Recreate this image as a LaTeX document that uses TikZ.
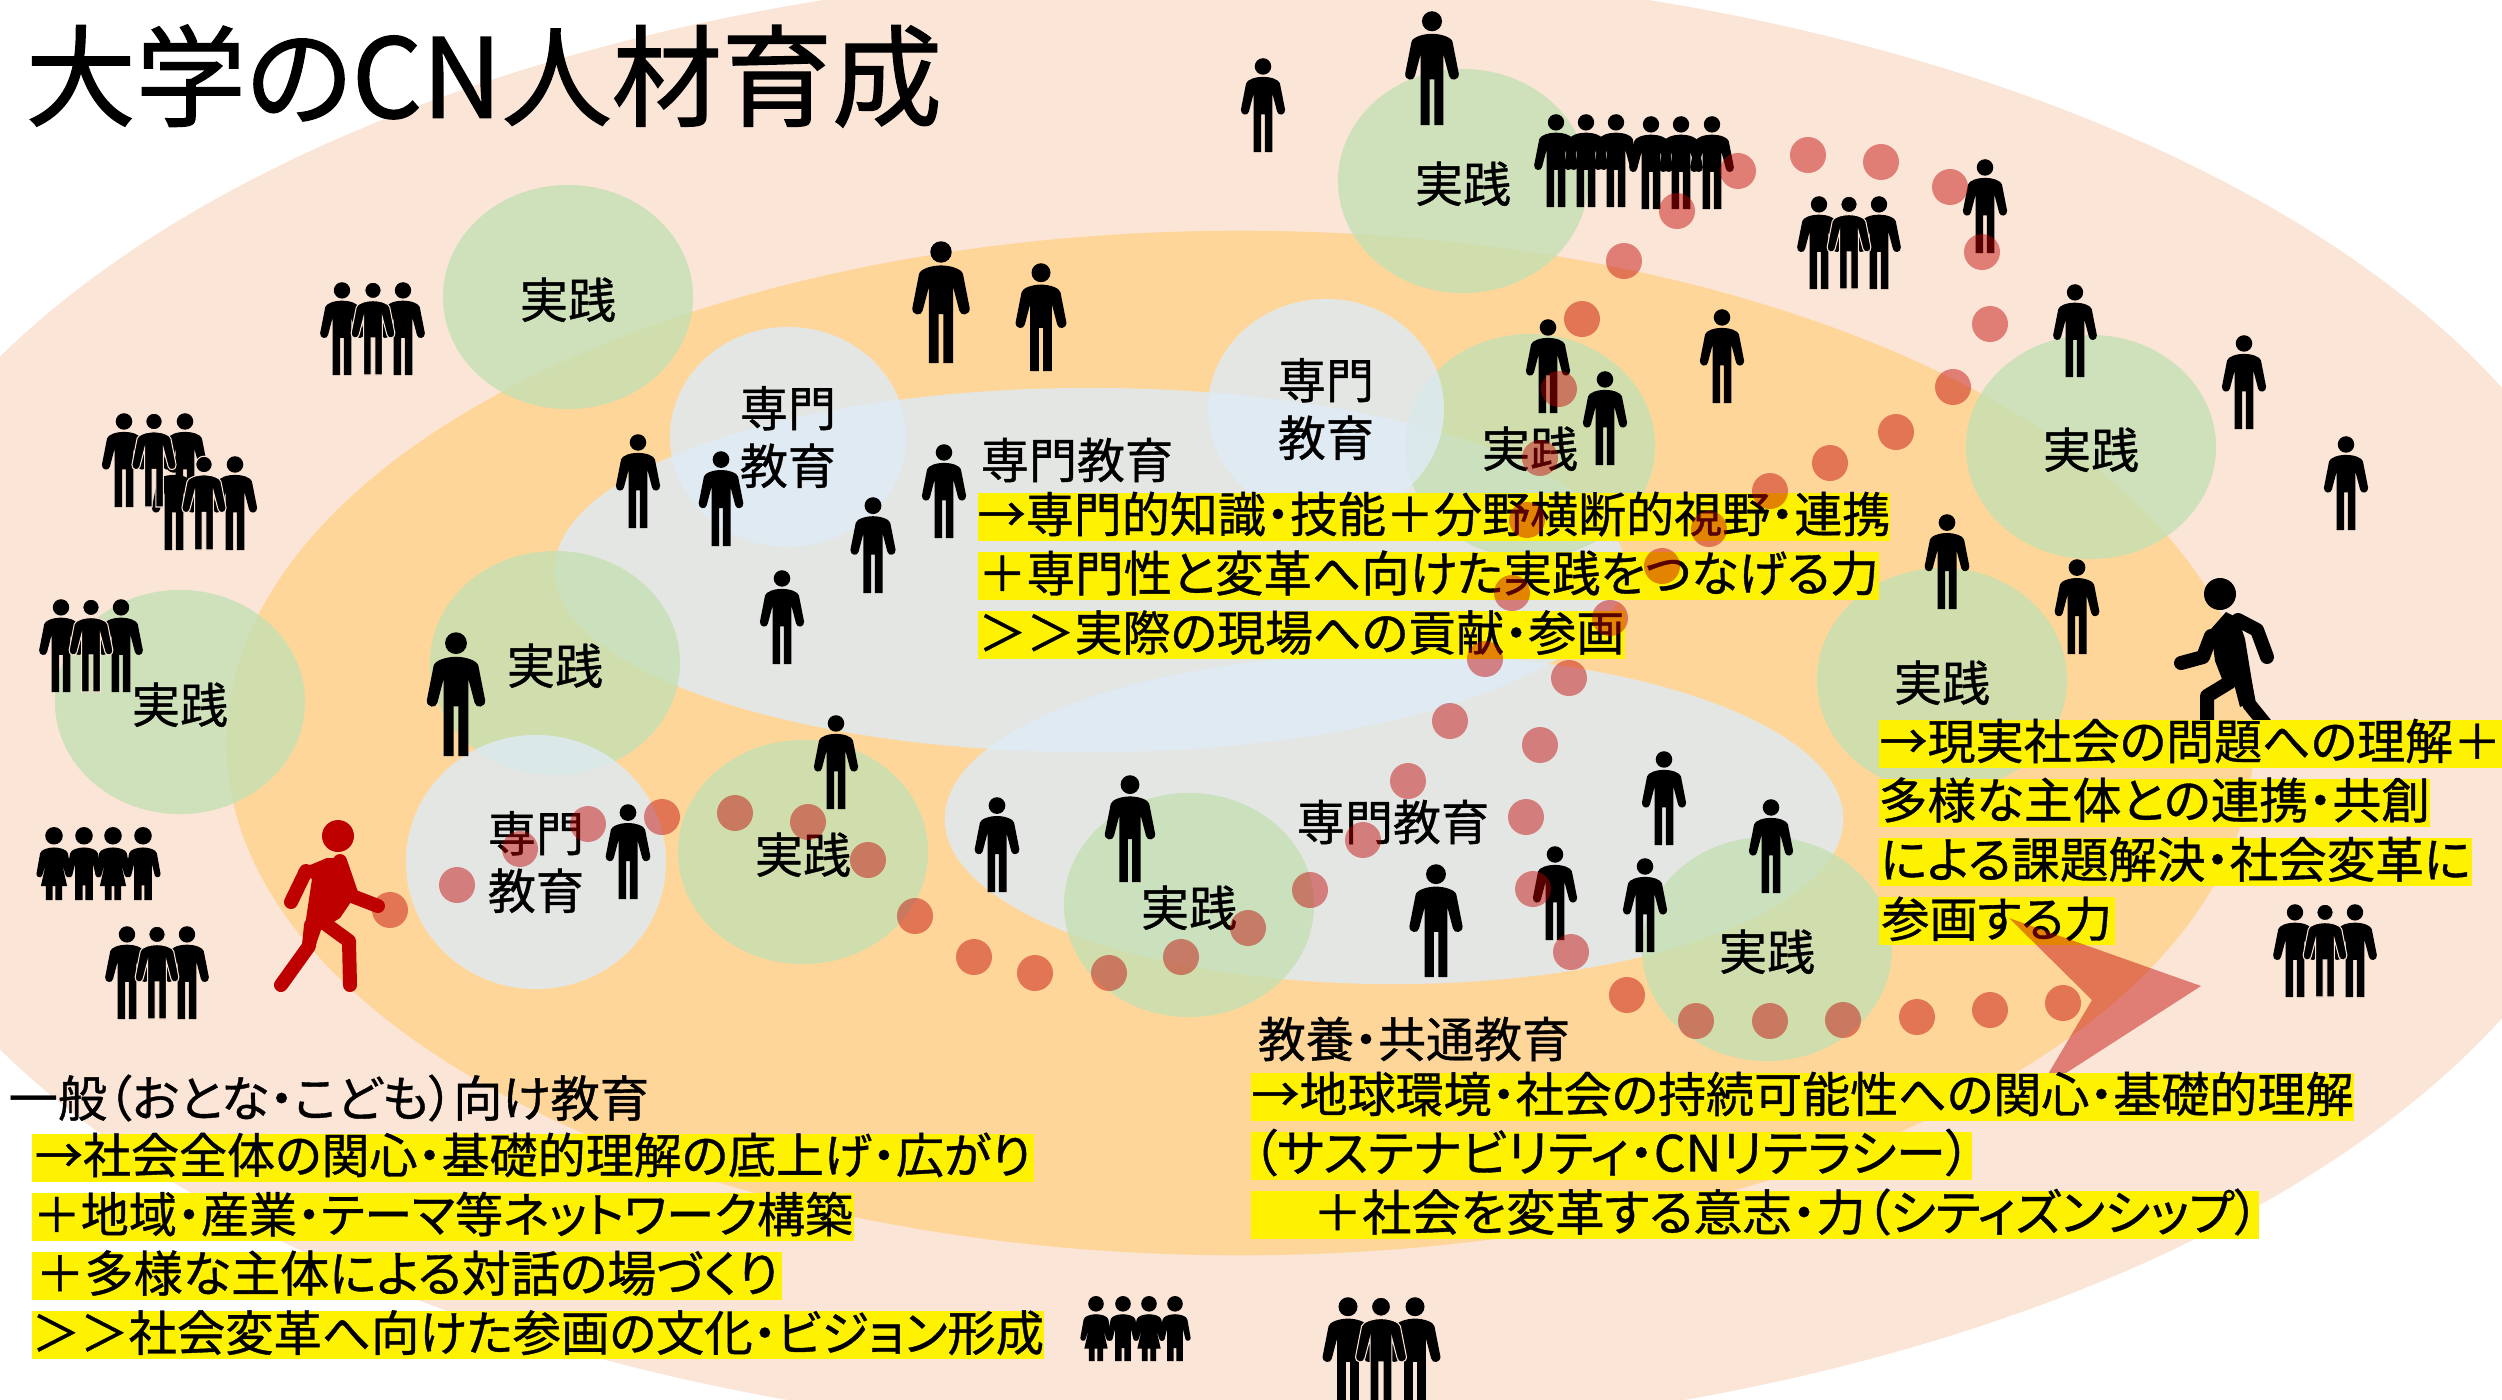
\documentclass[tikz,border=0pt]{standalone}
\usepackage{fontspec}
\usepackage{tikz}
\usetikzlibrary{positioning}
\usetikzlibrary{shapes.geometric}
\setmainfont{Noto Sans CJK JP}[RawFeature=+palt, FakeBold=0.8]
\newfontfamily\titlefont{Noto Sans CJK JP}[RawFeature=+palt, FakeBold=1.2]
\definecolor{peachFill}{HTML}{FBE5D6}
\definecolor{orangeFill}{HTML}{FFD699}
\definecolor{expertFill}{HTML}{DEEBF7}
\definecolor{practiceFill}{HTML}{C5E0B4}
\definecolor{dotFill}{HTML}{C00000}

\begin{document}
\begin{tikzpicture} [x=0.01cm, y=-0.01cm]
            % Set primary nodes
            \tikzset{
                areaNode/.style={
                        ellipse,
                        inner sep=0pt
                    }
            }
            \tikzset{
                expertNode/.style={
                        areaNode,
                        fill=expertFill,
                        fill opacity=0.8,
                        text opacity=1,
                        align=center,
                        font=\fontsize{13.66}{16.4}\selectfont,
                        minimum width=2.36cm,
                        minimum height=2.2cm
                    }
            }
            \tikzset{
                practiceNode/.style={
                        areaNode,
                        fill=practiceFill,
                        fill opacity=0.8,
                        text opacity=1,
                        text height=0.5cm,
                        text depth=0.08cm,
                        font=\fontsize{13.66}{16.4}\selectfont,
                        minimum width=2.5cm,
                        minimum height=2.24cm
                    }
            }
            \tikzset{
                labelNode/.style={
                        inner sep=0pt,
                        font=\fontsize{13.66}{16.4}\selectfont
                    }
            }
            \tikzset{
                barNode/.style={
                        fill=yellow,
                        inner xsep=0pt,
                        inner ysep=0pt,
                        text height=0.395cm,
                        text depth=0.085cm,
                        font=\fontsize{13.66}{16.4}\selectfont
                    }
            }
            \tikzset{
                nextBar/.style={
                        barNode,
                        below=0.098cm of #1.south west,
                        anchor=north west
                    }
            }
            \tikzset{
                dot/.style={
                        fill=dotFill,
                        fill opacity=0.45
                    }
            }
            \tikzset{
                limb/.style={
                        line width=0.14cm,
                        line cap=round,
                        line join=round
                    }
            }
            \tikzset{
                halo/.style={
                        draw=peachFill,
                        line width=0.3pt
                    }
            }
            % Figures, 100 units high
            \tikzset{
                person/.pic={
                        \path[pic actions, fill=black] (0,9) circle [radius=8.8];
                        \path[pic actions, fill=black] (-10,100) -- (-2,100) -- (-2,60) -- (2,60) -- (2,100) -- (10,100) -- (10,38)
                            -- (15,57) .. controls (16,62) and (24,61) .. (23.5,55) -- (18,27)
                            .. controls (17,23) and (8,20) .. (0,20) .. controls (-8,20) and (-17,23) .. (-18,27)
                            -- (-23.5,55) .. controls (-24,61) and (-16,62) .. (-15,57) -- (-10,38) -- cycle;
                    }
            }
            \tikzset{
                kid/.pic={
                        \fill (0,12) circle [radius=12];
                        \fill (-12,100) -- (-2,100) -- (-2,80) -- (2,80) -- (2,100) -- (12,100) -- (12,50)
                            -- (16,66) .. controls (17,71) and (25,69) .. (24,64) -- (19,36)
                            .. controls (18,31) and (8,28) .. (0,28) .. controls (-8,28) and (-18,31) .. (-19,36)
                            -- (-24,64) .. controls (-25,69) and (-17,71) .. (-16,66) -- (-12,50) -- cycle;
                    }
            }
            \tikzset{
                girl/.pic={
                        \fill (0,12) circle [radius=12];
                        \fill (-11,100) -- (-2,100) -- (-2,81) -- (2,81) -- (2,100) -- (11,100) -- (11,81) -- (18,81) -- (11,50)
                            -- (16,66) .. controls (17,71) and (25,69) .. (24,64) -- (19,36)
                            .. controls (18,31) and (8,28) .. (0,28) .. controls (-8,28) and (-18,31) .. (-19,36)
                            -- (-24,64) .. controls (-25,69) and (-17,71) .. (-16,66) -- (-11,50) -- (-18,81) -- (-11,81) -- cycle;
                    }
            }
            \useasboundingbox (0,0) rectangle (2502,1399);
            \clip (0,0) rectangle (2502,1399);
            % Placing areas
            \node[areaNode, fill=peachFill, minimum width=28cm, minimum height=14.7cm] (general) at (1236,703) {};
            \node[areaNode, fill=orangeFill, minimum width=20.26cm, minimum height=10.24cm] (liberal) at (1240,743) {};
            \node[expertNode, minimum width=10.7cm, minimum height=3.64cm] (expertUpper) at (1090,570) {};
            \node[expertNode, minimum width=8.98cm, minimum height=3.3cm] (expertLower) at (1394,819) {};
            \node[practiceNode] (practiceA) at (568,297) {実践};
            \node[practiceNode] (practiceB) at (180,702) {実践};
            \node[practiceNode] (practiceC) at (555,663) {実践};
            \node[practiceNode] (practiceD) at (803,852) {実践};
            \node[practiceNode] (practiceE) at (1463,181) {実践};
            \node[practiceNode] (practiceF) at (1530,446) {実践};
            \node[practiceNode] (practiceG) at (2091,447) {実践};
            \node[practiceNode] (practiceH) at (1942,680) {実践};
            \node[practiceNode] (practiceI) at (1189,905) {実践};
            \node[practiceNode] (practiceJ) at (1767,949) {実践};
            \node[expertNode] (expertA) at (788,437) {専門\\教育};
            \node[expertNode] (expertB) at (1326,409) {専門\\教育};
            \node[expertNode, minimum width=2.6cm, minimum height=2.54cm] (expertC) at (536,862) {専門\\教育};
            % Placing figures
            \foreach \px/\py/\ph in {1263/58/94, 1432/11/114, 1985/159/94, 1041/263/108, 941/241/122, 1548/319/94, 1605/371/94,
                    1722/309/94, 944/444/94, 997/797/95, 1130/775/107, 1436/864/113, 1555/846/94, 1645/858/94, 1664/751/94,
                    1771/799/94, 638/434/94, 721/451/95, 873/497/96, 782/570/94, 836/715/94, 456/632/124, 628/804/95,
                    2075/284/93, 2244/335/94, 2346/436/94, 1947/514/95, 2077/559/95,
                    1556/114/93, 1586/114/93, 1616/114/93, 1651/116/93, 1681/116/93, 1712/116/93}
                \pic[scale=\ph/100] at (\px,\py) {person};
            % Groups of three, the middle one in front
            \foreach \px/\py/\ph in {342/282/93, 403/282/93, 124/413/94, 185/413/94, 174/456/94, 235/456/94, 61/599/93, 121/599/93,
                    127/926/93, 187/926/93, 1819/196/93, 1879/196/93, 2295/904/93, 2355/904/93, 1348/1297/108, 1415/1297/108}
                \pic[scale=\ph/100] at (\px,\py) {person};
            \foreach \px/\py/\ph in {373/282/93, 154/413/94, 204/456/94, 91/599/93, 157/926/93, 1849/196/93, 2325/904/93, 1381/1297/108}
                \pic[scale=\ph/100, halo] at (\px,\py) {person};
            \foreach \px/\py/\ph in {84/827/73, 143/827/73, 1123/1296/65, 1175/1296/65}
                \pic[scale=\ph/100] at (\px,\py) {kid};
            \foreach \px/\py/\ph in {54/827/73, 113/827/73, 1096/1296/65, 1149/1296/65}
                \pic[scale=\ph/100] at (\px,\py) {girl};
            % Red walker
            \fill[red!75!black] (338,836) circle [radius=16];
            \fill[red!75!black] (298,870) -- (327,858) -- (339,858) -- (347,864) -- (357,893) -- (340,918) -- (321,930) -- (314,950) -- (302,946) -- (312,879) -- cycle;
            \draw[limb, red!75!black] (306,871) -- (291,902);
            \draw[limb, red!75!black] (340,861) -- (352,896) -- (378,906);
            \draw[limb, red!75!black] (311,925) -- (309,946) -- (281,985);
            \draw[limb, red!75!black] (327,925) -- (349,941) -- (350,985);
            % Black walker
            \fill (2220,594) circle [radius=16];
            \fill (2211,629) -- (2226,612) -- (2238,618) -- (2245,639) -- (2255,700) -- (2240,707) -- (2234,684) -- (2222,679) -- (2215,661) -- cycle;
            \draw[limb] (2211,636) -- (2203,657) -- (2181,663);
            \draw[limb] (2238,620) -- (2257,630) -- (2267,657);
            \draw[limb] (2230,682) -- (2207,696) -- (2207,725);
            \draw[limb] (2244,679) -- (2249,704) -- (2270,730);
            % Placing texts
            \node[anchor=west, inner sep=0pt, font=\titlefont\fontsize{31.3}{36}\selectfont] (title) at (25,76) {大学のCN人材育成};
            \node[labelNode] (expertUpperLabel) at (1077,460) {専門教育};
            \node[labelNode] (expertLowerLabel) at (1393,822) {専門教育};
            \node[barNode, minimum width=9.12cm, anchor=north west] (expertBarA) at (977,492) {→専門的知識・技能＋分野横断的視野・連携};
            \node[nextBar=expertBarA, minimum width=9.01cm, font=\fontsize{13.8}{16.4}\selectfont] (expertBarB) {＋専門性と変革へ向けた実践をつなげる力};
            \node[nextBar=expertBarB, minimum width=6.47cm] (expertBarC) {＞＞実際の現場への貢献・参画};
            \node[barNode, minimum width=6.23cm, anchor=north west] (practiceBarA) at (1878,719) {→現実社会の問題への理解＋};
            \node[nextBar=practiceBarA, minimum width=5.48cm, font=\fontsize{13.85}{16.4}\selectfont] (practiceBarB) {多様な主体との連携・共創};
            \node[nextBar=practiceBarB, minimum width=5.93cm, font=\fontsize{13.8}{16.4}\selectfont] (practiceBarC) {による課題解決・社会変革に};
            \node[nextBar=practiceBarC, minimum width=2.36cm] (practiceBarD) {参画する力};
            % Arrow and dots lie over these texts
            \fill[dot] (2009,918) -- (2201,986) -- (2038,1091) -- (2092,1000) -- cycle;
            \foreach \px/\py in {390/910, 457/885, 520/849, 588/824, 662/817, 735/813, 808/822, 868/860, 915/916, 974/957, 1035/973,
                    1109/973, 1181/957, 1248/928, 1310/890, 1363/840, 1408/781, 1450/721, 1485/659, 1512/593, 1527/520, 1540/458,
                    1559/389, 1582/319, 1624/261, 1677/211, 1738/171, 1808/155, 1881/162, 1950/187, 1982/252, 1990/324, 1953/387,
                    1896/432, 1830/463, 1770/491, 1709/529, 1662/566, 1610/618, 1569/678, 1540/745, 1526/817, 1533/889, 1571/952,
                    1627/995, 1696/1021, 1770/1021, 1843/1020, 1917/1017, 1990/1010, 2063/1003}
                \fill[dot] (\px,\py) circle [radius=18];
            % Lower texts
            \node[labelNode] (liberalLabel) at (1414,1039) {教養・共通教育};
            \node[barNode, minimum width=11.03cm, anchor=north west] (liberalBarA) at (1250,1072) {→地球環境・社会の持続可能性への関心・基礎的理解};
            \node[nextBar=liberalBarA, minimum width=7.21cm, font=\fontsize{14.2}{16.4}\selectfont] (liberalBarB) {（サステナビリティ・CNリテラシー）};
            \node[nextBar=liberalBarB, minimum width=10.08cm, font=\fontsize{14}{16.4}\selectfont] (liberalBarC) {\hspace*{0.62cm}＋社会を変革する意志・力（シティズンシップ）};
            \node[labelNode, anchor=west, font=\fontsize{14}{16.4}\selectfont] (generalLabel) at (8,1098) {一般（おとな・こども）向け教育};
            \node[barNode, minimum width=10.02cm, anchor=north west] (generalBarA) at (31,1133) {→社会全体の関心・基礎的理解の底上げ・広がり};
            \node[nextBar=generalBarA, minimum width=8.22cm] (generalBarB) {＋地域・産業・テーマ等ネットワーク構築};
            \node[nextBar=generalBarB, minimum width=7.5cm, font=\fontsize{13.96}{16.4}\selectfont] (generalBarC) {＋多様な主体による対話の場づくり};
            \node[nextBar=generalBarC, minimum width=10.12cm, font=\fontsize{13.75}{16.4}\selectfont] (generalBarD) {＞＞社会変革へ向けた参画の文化・ビジョン形成};
        \end{tikzpicture}
\end{document}
